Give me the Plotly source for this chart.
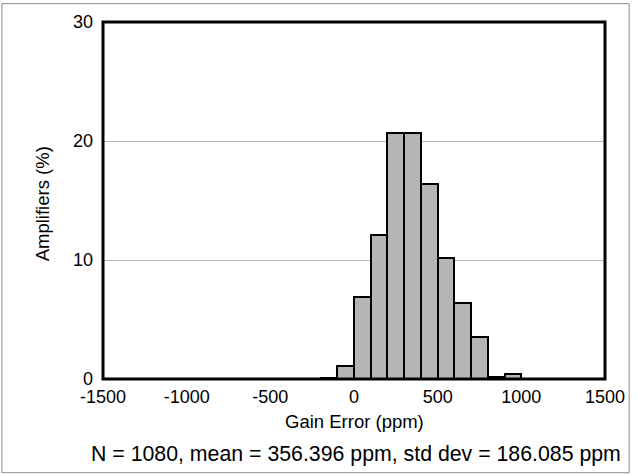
import plotly.graph_objects as go

# Histogram data (bin width 100 ppm), percent of amplifiers
bin_starts = [-200, -100, 0, 100, 200, 300, 400, 500, 600, 700, 800, 900]
percent = [0.1, 1.1, 6.9, 12.1, 20.7, 20.7, 16.4, 10.2, 6.4, 3.5, 0.2, 0.45]
bin_width = 100
x_ticks = [-1500, -1000, -500, 0, 500, 1000, 1500]
y_ticks = [0, 10, 20, 30]
stats_text = "N = 1080, mean = 356.396 ppm, std dev = 186.085 ppm"

centers = [s + bin_width / 2 for s in bin_starts]

FONT = "Liberation Sans, Arial, sans-serif"

fig = go.Figure()
fig.add_trace(go.Bar(
    x=centers, y=percent, width=[bin_width] * len(centers),
    marker=dict(color="#b5b5b5", line=dict(color="black", width=2)),
    hoverinfo="skip",
))

W, H = 637, 474
ml, mr, mt, mb = 103, 25, 19, 95
pw, ph = W - ml - mr, H - mt - mb

fig.update_layout(
    width=W, height=H,
    margin=dict(l=ml, r=mr, t=mt, b=mb, pad=0),
    paper_bgcolor="white", plot_bgcolor="white",
    font=dict(family=FONT, size=18, color="black"),
    showlegend=False,
    bargap=0,
    xaxis=dict(range=[-1500, 1500], tickvals=x_ticks, ticktext=[str(v) for v in x_ticks],
               showgrid=False, zeroline=False, showline=False, ticks="",
               tickfont=dict(size=18), ticklabelstandoff=5),
    yaxis=dict(range=[0, 30], tickvals=y_ticks, ticktext=[str(v) for v in y_ticks],
               showgrid=True, gridcolor="#b4b4b4", gridwidth=1, zeroline=False,
               showline=False, ticks="", tickfont=dict(size=18), ticklabelstandoff=9),
    shapes=[
        dict(type="rect", xref="paper", yref="paper", x0=0, x1=1, y0=0, y1=1,
             line=dict(color="black", width=3), fillcolor="rgba(0,0,0,0)", layer="above"),
        dict(type="rect", xref="paper", yref="paper",
             x0=(-ml + 0.5) / pw, x1=1 + (mr - 0.5) / pw,
             y0=-(mb - 0.5) / ph, y1=1 + (mt - 0.5) / ph,
             line=dict(color="#8c8c8c", width=1), fillcolor="rgba(0,0,0,0)", layer="below"),
    ],
    annotations=[
        dict(text="Gain Error (ppm)", xref="paper", yref="paper", x=0.5,
             y=-(422 - (mt + ph)) / ph, xanchor="center", yanchor="middle",
             showarrow=False, font=dict(size=18.5)),
        dict(text="Amplifiers (%)", xref="paper", yref="paper", x=-(ml - 42) / pw,
             y=(mt + ph - 202) / ph, xanchor="center", yanchor="middle", textangle=-90,
             showarrow=False, font=dict(size=18.5)),
        dict(text=stats_text, xref="paper", yref="paper", x=(360 - ml) / pw,
             y=-(455 - (mt + ph)) / ph, xanchor="center", yanchor="middle",
             showarrow=False, font=dict(size=21.3)),
    ],
)

fig.write_html("out.html")
